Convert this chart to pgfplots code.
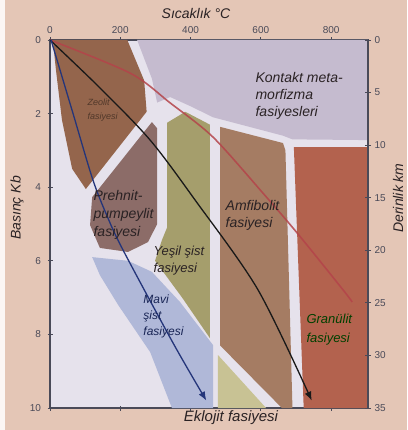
\documentclass[border=0pt]{standalone}
\usepackage{pgfplots}
\pgfplotsset{compat=1.18}
\usepackage{fontspec}
\setmainfont{Liberation Sans}
\usetikzlibrary{arrows.meta}
\definecolor{bgout}{HTML}{E4C6B6}
\definecolor{bgin}{HTML}{E6E2EC}
\definecolor{zeo}{HTML}{94654C}
\definecolor{pre}{HTML}{8C6C68}
\definecolor{grn}{HTML}{A59E6C}
\definecolor{amf}{HTML}{A57C63}
\definecolor{gra}{HTML}{B3624E}
\definecolor{kon}{HTML}{C5BBCF}
\definecolor{mav}{HTML}{B0B8D8}
\definecolor{ekl}{HTML}{C8C294}
\definecolor{axc}{HTML}{4A4A58}
\definecolor{blu}{HTML}{24357A}
\definecolor{redl}{HTML}{B4444A}
\definecolor{txt}{HTML}{2A2224}
\begin{document}
\begin{tikzpicture}[x=1pt,y=1pt]
\fill[bgout] (0,0) rectangle (407,430);
\fill[white!85!bgout] (0,0) rectangle (5,430);
\begin{axis}[
  at={(50pt,22pt)}, anchor=south west,
  width=318pt, height=368pt, scale only axis,
  xmin=0, xmax=905, ymin=0, ymax=10, y dir=reverse,
  axis background/.style={fill=bgin},
  axis line style={axc, line width=1.1pt},
  xtick={0,200,400,600,800}, ytick={0,2,4,6,8,10},
  xtick pos=both, xticklabel pos=upper, ytick pos=left,
  tick align=center, major tick length=5pt,
  tick style={axc, line width=0.8pt},
  /pgf/number format/assume math mode=true,
  ticklabel style={font=\fontsize{10}{10}\selectfont, text=axc},
  yticklabel style={xshift=-3pt},
  clip=true,
]
% Kontakt metamorfizma
\addplot[fill=kon, draw=none] coordinates {(248,0) (905,0) (905,2.72) (690,2.7) (663,2.6) (464,2.1) (400,1.8) (342,1.55) (305,1.7) (290,1.05)} --cycle;
% Zeolit
\addplot[fill=zeo, draw=none] coordinates {(8,0) (220,0) (268,1.1) (275,1.95) (102,4.05) (63,3.5) (34,2.17) (17,0.82)} --cycle;
% Prehnit-pumpeylit
\addplot[fill=pre, draw=none] coordinates {(120,4.27) (290,2.23) (305,2.4) (305,5.0) (279,5.49) (222,5.76) (142,5.65) (114,5.03)} --cycle;
% Yesil sist
\addplot[fill=grn, draw=none] coordinates {(333,2.25) (385,1.95) (455,2.3) (455,8.1) (376,7.0) (299,6.0) (318,5.45) (333,5.1)} --cycle;
% Amfibolit
\addplot[fill=amf, draw=none] coordinates {(484,2.36) (663,2.8) (670,3.0) (690,10) (660,10) (484,8.3)} --cycle;
% Granulit
\addplot[fill=gra, draw=none] coordinates {(694,2.91) (905,2.91) (905,10) (722,10)} --cycle;
% Mavi sist
\addplot[fill=mav, draw=none] coordinates {(120,5.9) (222,6.0) (290,6.3) (370,7.12) (464,8.29) (464,10) (347,10) (285,8.48) (194,7.2) (142,6.39)} --cycle;
% Eklojit strip
\addplot[fill=ekl, draw=none] coordinates {(478,8.56) (615,10) (478,10)} --cycle;
% geotherms
\addplot[redl, opacity=0.85, line width=1.6pt, smooth, tension=0.5] coordinates {(0,0) (228,0.90) (342,1.71) (464,2.64) (606,4.16) (703,5.24) (834,6.79) (860,7.12)};
\addplot[black!90, line width=1.3pt, smooth, tension=0.5, -{Latex[length=9pt,width=7pt]}] coordinates {(0,0) (142,1.3) (285,2.72) (413,4.35) (592,6.79) (745,9.8)};
\addplot[blu, line width=1.3pt, smooth, tension=0.5, -{Latex[length=9pt,width=7pt]}] coordinates {(3,0) (65,1.98) (122,3.80) (165,4.84) (208,5.71) (350,8.23) (445,9.8)};
% labels
\node[anchor=west, align=left, font=\itshape\fontsize{14}{17}\selectfont, text=txt] at (axis cs:575,1.52) {Kontakt meta-\\morfizma\\fasiyesleri};
\node[anchor=west, align=left, font=\itshape\fontsize{9}{14}\selectfont, text=zeo!55!black] at (axis cs:97,1.9) {Zeolit\\fasiyesi};
\node[anchor=west, align=left, font=\itshape\fontsize{14}{18}\selectfont, text=txt] at (axis cs:114,4.76) {Prehnit-\\pumpeylit\\fasiyesi};
\node[anchor=west, align=left, font=\itshape\fontsize{14}{17}\selectfont, text=txt] at (axis cs:490,4.76) {Amfibolit\\fasiyesi};
\node[anchor=west, align=left, font=\itshape\fontsize{13}{17}\selectfont, text=txt] at (axis cs:285,6.0) {Yeşil şist\\fasiyesi};
\node[anchor=west, align=left, font=\itshape\fontsize{12}{16}\selectfont, text=blu!70!black] at (axis cs:256,7.5) {Mavi\\şist\\fasiyesi};
\node[anchor=west, align=left, font=\itshape\fontsize{13}{19}\selectfont, text=green!25!black] at (axis cs:720,7.88) {Granülit\\fasiyesi};
\end{axis}
\begin{axis}[
  at={(50pt,22pt)}, anchor=south west,
  width=318pt, height=368pt, scale only axis,
  xmin=0, xmax=905, ymin=0, ymax=35, y dir=reverse,
  axis x line=none, axis y line*=right,
  axis line style={axc, line width=1.1pt},
  ytick={0,5,...,35},
  tick align=center, major tick length=6pt,
  tick style={axc, line width=0.8pt},
  /pgf/number format/assume math mode=true,
  ticklabel style={font=\fontsize{10}{10}\selectfont, text=axc},
]
\end{axis}
\node[font=\itshape\fontsize{14}{14}\selectfont, text=txt] at (196,416) {Sıcaklık °C};
\node[font=\itshape\fontsize{14}{14}\selectfont, text=txt, rotate=90] at (17,222) {Basınç Kb};
\node[font=\itshape\fontsize{14}{14}\selectfont, text=txt, rotate=90] at (398,232) {Derinlik km};
\node[font=\itshape\fontsize{15}{15}\selectfont, text=txt] at (231,12) {Eklojit fasiyesi};
\end{tikzpicture}
\end{document}
